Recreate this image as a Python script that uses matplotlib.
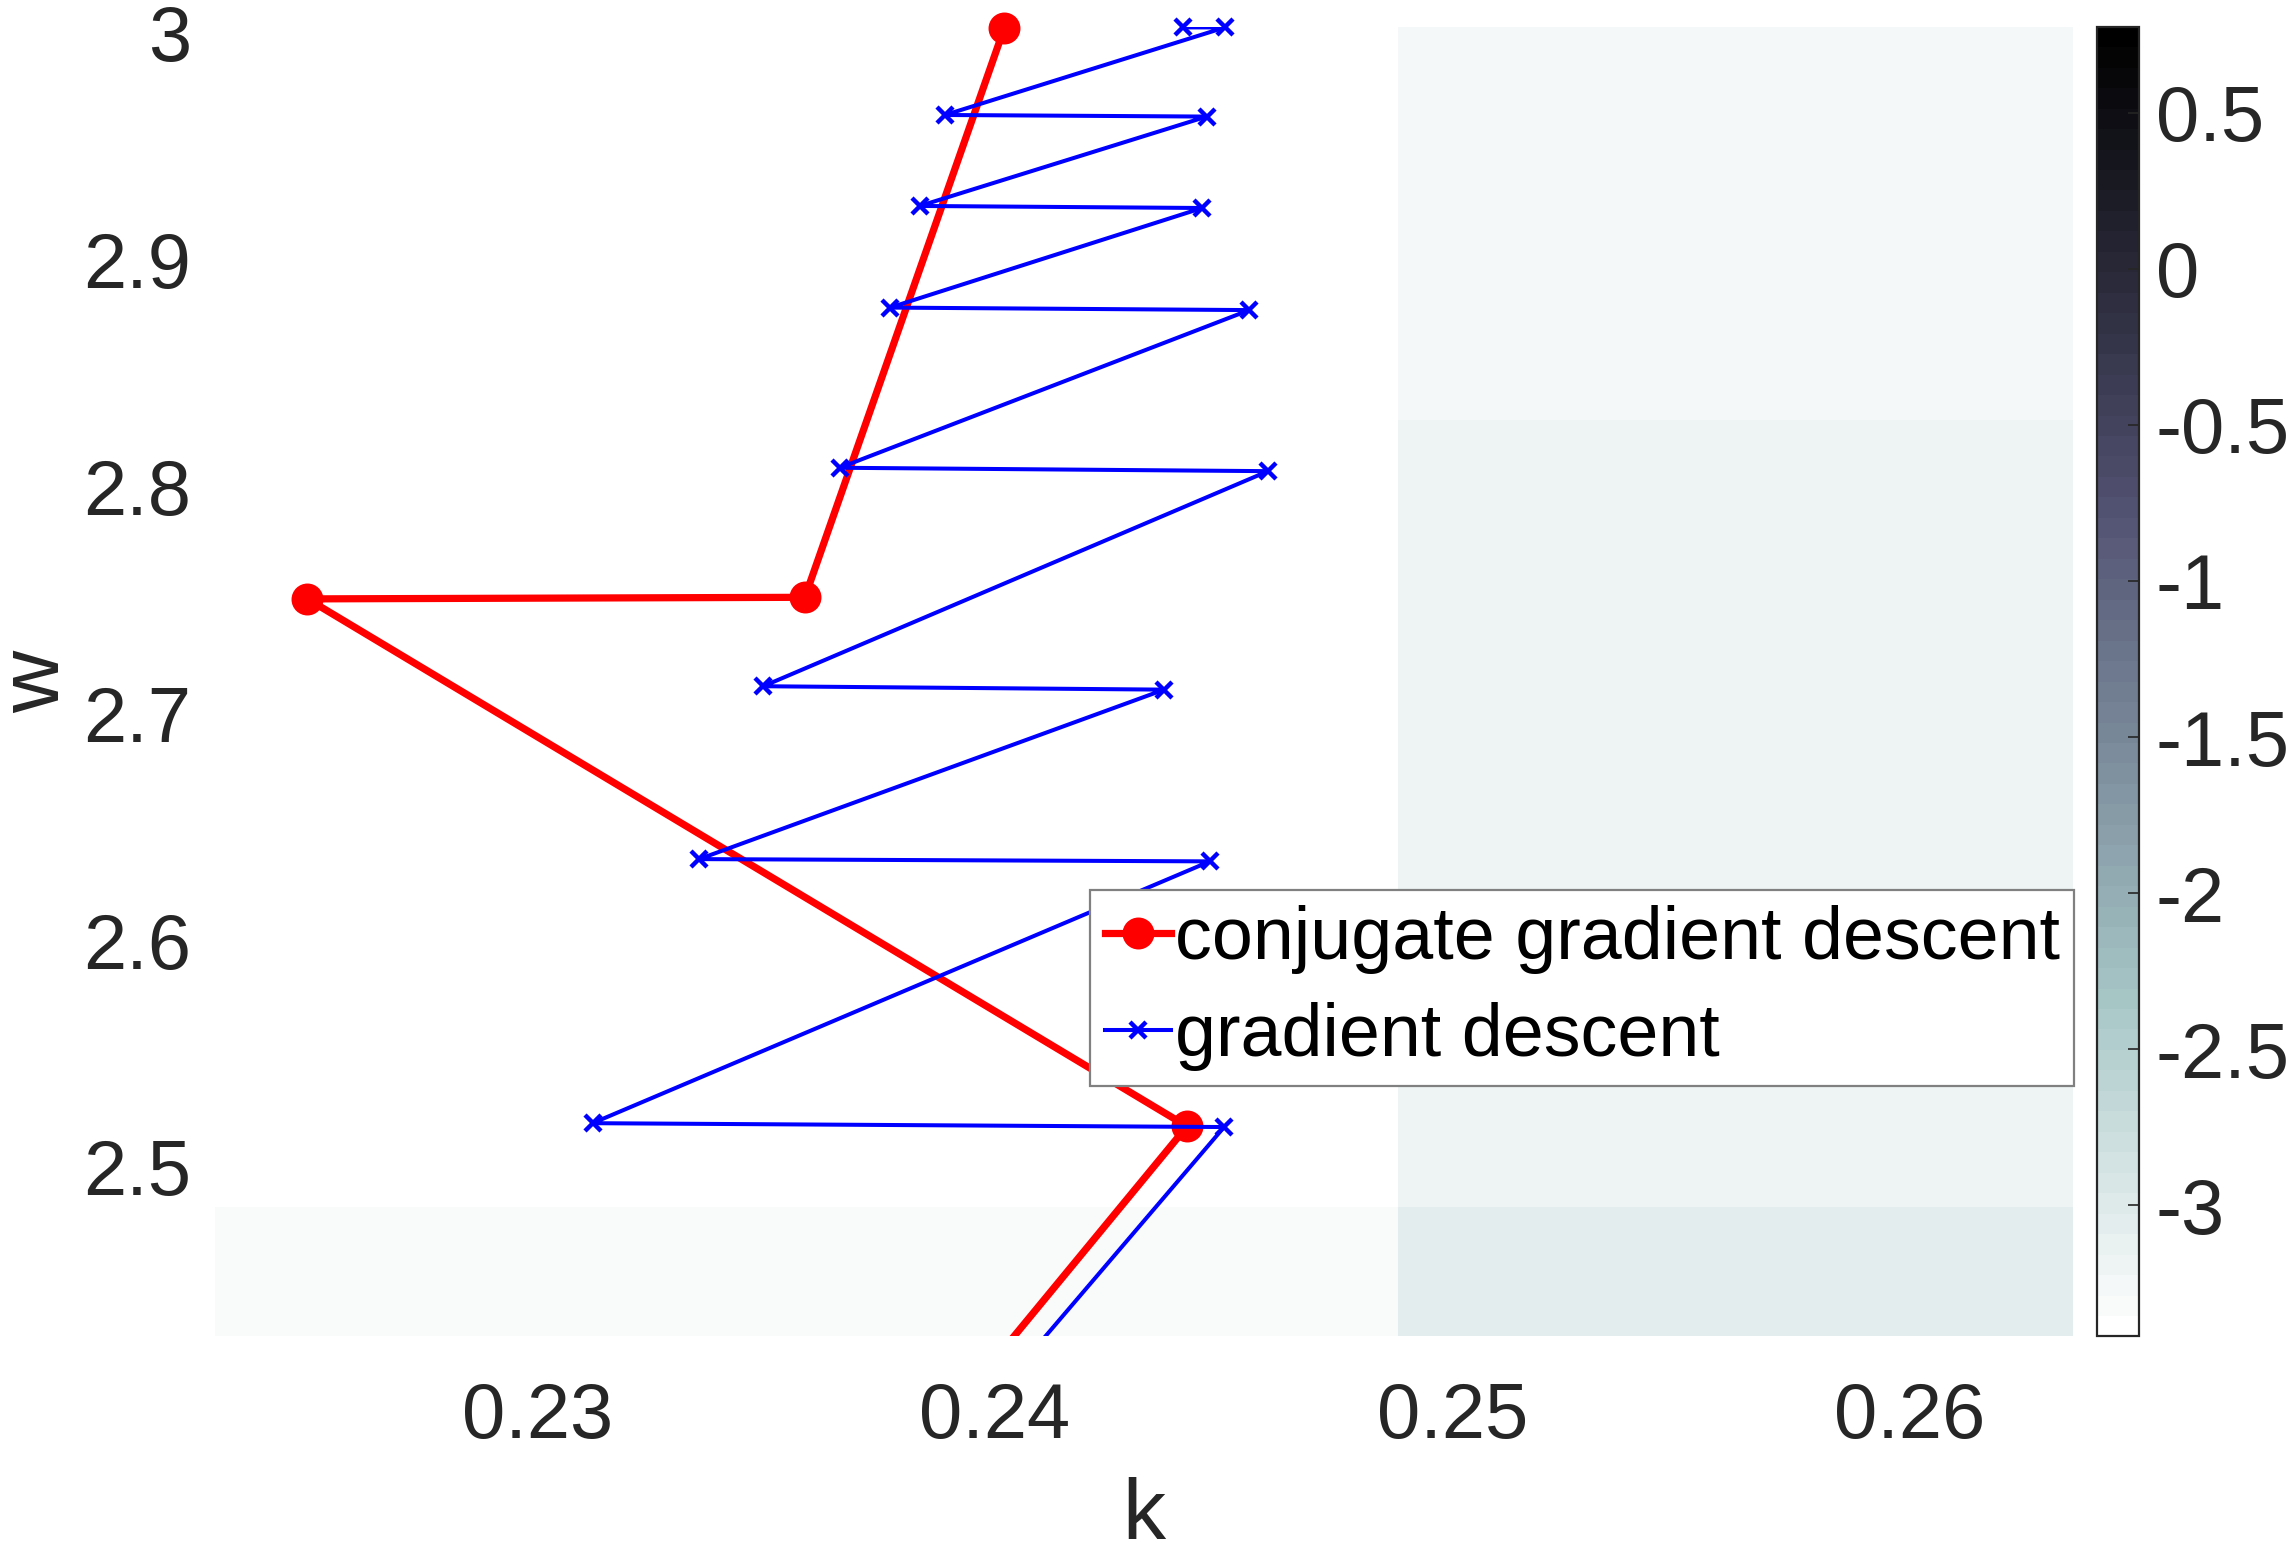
import numpy as np
import matplotlib.pyplot as plt

plt.rcParams['font.family'] = ['Liberation Sans', 'DejaVu Sans']
plt.rcParams['axes.unicode_minus'] = False

# background cost surface (coarse grid)
k_edges = np.array([0.22295, 0.2488, 0.26356])
w_edges = np.array([2.4253, 2.4825, 2.8293, 3.0026])
cost = np.array([[-3.33, -3.04],
                 [-3.42, -3.18],
                 [-3.42, -3.26]])

# conjugate gradient descent path (first point lies below the view)
cg_k = np.array([0.2353, 0.24420, 0.22498, 0.23585, 0.24021])
cg_w = np.array([2.300, 2.5179, 2.7504, 2.7511, 3.0022])

# gradient descent path (first point lies below the view)
gd_k = np.array([0.2358, 0.24501, 0.23121, 0.24470, 0.23354, 0.24370, 0.23494,
                 0.24597, 0.23661, 0.24556, 0.23771, 0.24453, 0.23836, 0.24463,
                 0.23891, 0.24503, 0.24412])
gd_w = np.array([2.300, 2.5176, 2.5193, 2.6347, 2.6357, 2.7104, 2.7119,
                 2.8067, 2.8082, 2.8777, 2.8788, 2.9227, 2.9236, 2.9630,
                 2.9637, 3.0023, 3.0023])

x_ticks = [0.23, 0.24, 0.25, 0.26]
y_ticks = [2.5, 2.6, 2.7, 2.8, 2.9, 3.0]
cbar_ticks = [-3, -2.5, -2, -1.5, -1, -0.5, 0, 0.5]
vmin, vmax = -3.42, 0.775

txt = '#262626'

fig = plt.figure(figsize=(11.44, 7.77), dpi=200)
ax = fig.add_axes([0.09375, 0.14, 0.8123, 0.8428])
cax = fig.add_axes([0.9165, 0.14, 0.01836, 0.8428])

mesh = ax.pcolormesh(k_edges, w_edges, cost, cmap=plt.get_cmap('bone_r', 64),
                     vmin=vmin, vmax=vmax, shading='flat')

ax.plot(cg_k, cg_w, '-', color='red', lw=2.6)
ax.plot(cg_k[1:], cg_w[1:], 'o', color='red', ms=10.5, clip_on=False)
ax.plot(gd_k, gd_w, '-', color='blue', lw=1.45)
ax.plot(gd_k[1:], gd_w[1:], 'x', color='blue', ms=6, mew=1.6, clip_on=False)

# legend proxies
ax.plot([], [], '-o', color='red', lw=2.6, ms=10.5, label='conjugate gradient descent')
ax.plot([], [], '-x', color='blue', lw=1.45, ms=6, mew=1.6, label='gradient descent')

ax.set_xlim(k_edges[0], k_edges[-1])
ax.set_ylim(w_edges[0], w_edges[-1])
ax.set_xticks(x_ticks)
ax.set_xticklabels(['0.23', '0.24', '0.25', '0.26'])
ax.set_yticks(y_ticks)
ax.set_yticklabels(['2.5', '2.6', '2.7', '2.8', '2.9', '3'])
for s in ax.spines.values():
    s.set_visible(False)
ax.tick_params(axis='x', length=0, pad=16, labelsize=28, labelcolor=txt)
ax.tick_params(axis='y', length=0, pad=8.5, labelsize=28, labelcolor=txt)

ax.set_xlabel('k', fontsize=31, color=txt)
ax.set_ylabel('w', fontsize=31, color=txt)
ax.xaxis.set_label_coords(0.5, -0.107)
ax.yaxis.set_label_coords(-0.074, 0.5)

leg = ax.legend(loc='upper left', bbox_to_anchor=(0.471, 0.3408), borderaxespad=0,
                fontsize=26.5, handlelength=0.9, handletextpad=0.05, borderpad=0.2,
                labelspacing=0.38, fancybox=False, framealpha=1, edgecolor='#808080')
leg.get_frame().set_linewidth(0.8)

cb = fig.colorbar(mesh, cax=cax, ticks=cbar_ticks)
cb.ax.set_yticklabels(['-3', '-2.5', '-2', '-1.5', '-1', '-0.5', '0', '0.5'])
cb.ax.tick_params(direction='in', length=4, width=0.6, color='#262626',
                  labelsize=28, labelcolor=txt, pad=6)
cb.outline.set_edgecolor('#262626')
cb.outline.set_linewidth(0.8)

fig.savefig('out.png', dpi=200)
